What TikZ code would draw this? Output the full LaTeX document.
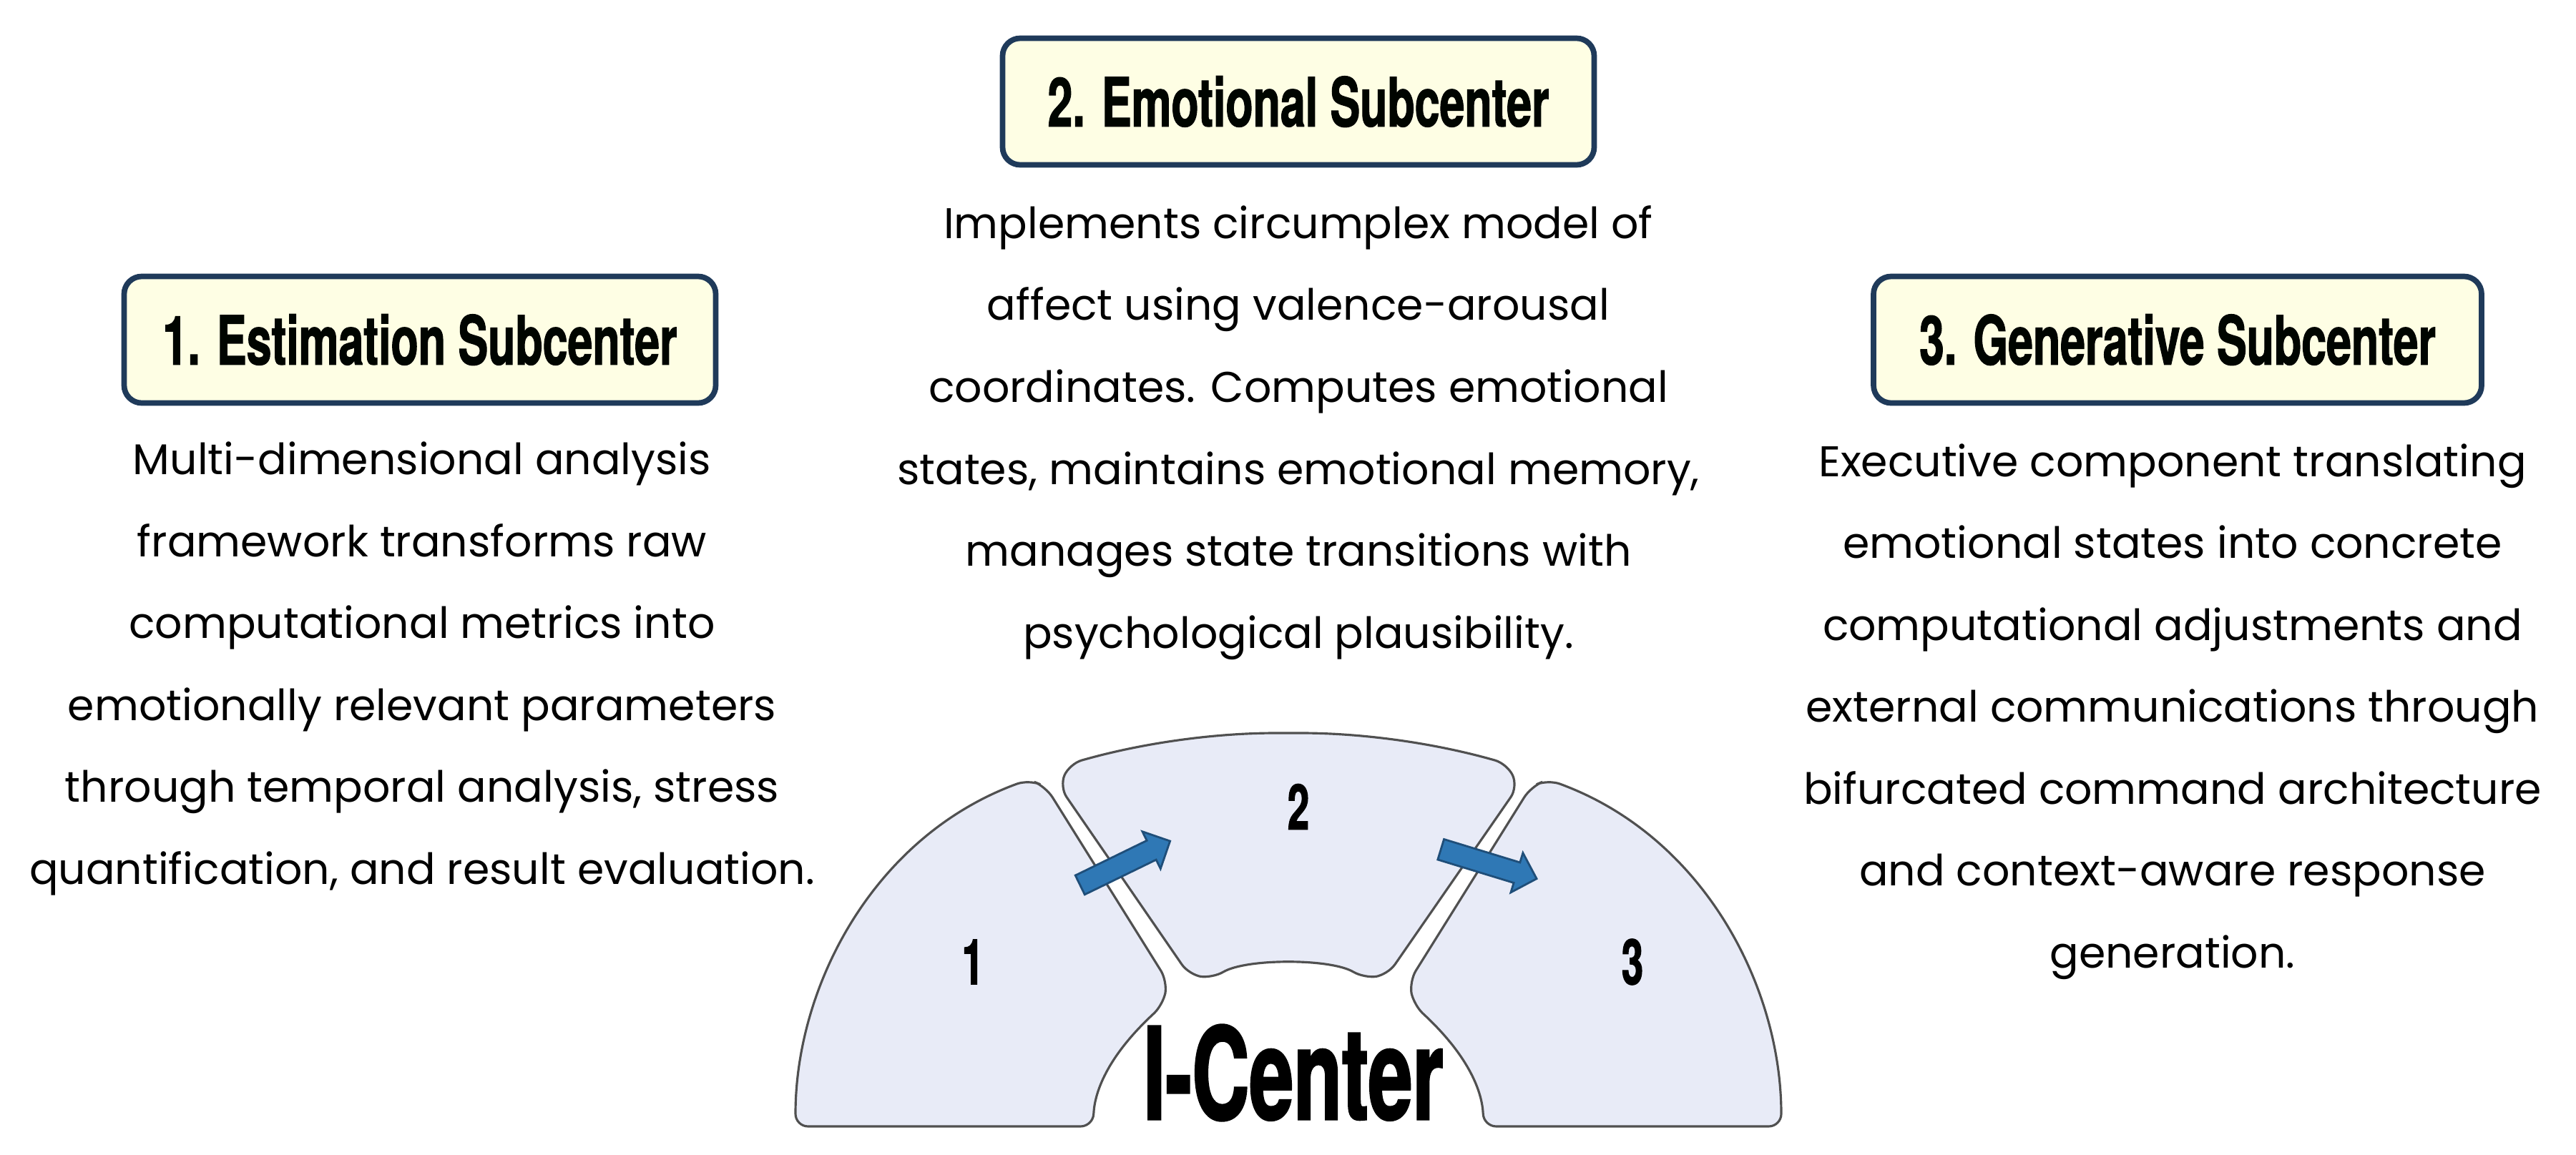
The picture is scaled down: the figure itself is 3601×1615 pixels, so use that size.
\documentclass[tikz,border=0pt]{standalone}
\usepackage{fontspec}
\setmainfont{Poppins}
\newfontfamily\titlefont[FakeStretch=0.66,FakeBold=1.2]{TeX Gyre Heros}
\newfontfamily\numfont[FakeStretch=0.62,FakeBold=1.4]{TeX Gyre Heros}
\usetikzlibrary{shapes.arrows}
\definecolor{boxfill}{HTML}{FEFEE4}
\definecolor{boxline}{HTML}{1F3A5A}
\definecolor{segfill}{HTML}{E8EBF7}
\definecolor{segline}{HTML}{505050}
\definecolor{arrfill}{HTML}{2F78B5}
\definecolor{arrline}{HTML}{1F4E79}
\tikzset{
  title/.style={draw=boxline,line width=2.2pt,fill=boxfill,rounded corners=7pt,
    minimum height=17.7mm,inner sep=0pt,font=\titlefont\bfseries\fontsize{27}{30}\selectfont,text=black!90!green!20!black},
  body/.style={align=center,font=\fontsize{17.1}{32.6}\selectfont,text=black},
  seg/.style={draw=segline,line width=0.9pt,fill=segfill,rounded corners=5pt},
  num/.style={font=\numfont\bfseries\fontsize{25}{28}\selectfont},
  blk/.style={single arrow,draw=arrline,line width=0.8pt,fill=arrfill,minimum height=14mm,
    inner xsep=0pt,inner ysep=1.35mm,single arrow head extend=1.4mm,
    single arrow head indent=0pt}
}
\begin{document}
\begin{tikzpicture}[x=0.1mm,y=-0.1mm]
\path[use as bounding box] (0,0) rectangle (3601,1615);
% titles
\node[title,minimum width=82.7mm] (t1) at (587,475) {1. Estimation Subcenter};
\node[title,minimum width=82.7mm] (t2) at (1815,142) {2. Emotional Subcenter};
\node[title,minimum width=85mm] (t3) at (3044,475) {3. Generative Subcenter};
% bodies
\node[body] (b1) at (590,935) {Multi-dimensional analysis\\framework transforms raw\\computational metrics into\\emotionally relevant parameters\\through temporal analysis, stress\\quantification, and result evaluation.};
\node[body] (b2) at (1815,605) {Implements circumplex model of\\affect using valence-arousal\\coordinates. Computes emotional\\states, maintains emotional memory,\\manages state transitions with\\psychological plausibility.};
\node[body] (b3) at (3037,995) {Executive component translating\\emotional states into concrete\\computational adjustments and\\external communications through\\bifurcated command architecture\\and context-aware response\\generation.};
% segments
\path[seg] (1112,1575) .. controls (1112,1380) and (1220,1170) .. (1438,1090)
  -- (1462,1100) -- (1632,1372) -- (1626,1405)
  .. controls (1545,1480) and (1530,1530) .. (1528,1575) -- cycle;
\path[seg] (1481,1100) -- (1495,1068) .. controls (1600,1038) and (1700,1025) .. (1801,1025)
  .. controls (1902,1025) and (2002,1038) .. (2107,1068) -- (2122,1100)
  -- (1940,1363) -- (1907,1368) .. controls (1860,1340) and (1742,1340) .. (1695,1368)
  -- (1662,1363) -- cycle;
\path[seg] (2490,1575) .. controls (2490,1380) and (2382,1170) .. (2164,1090)
  -- (2140,1100) -- (1970,1372) -- (1976,1405)
  .. controls (2057,1480) and (2072,1530) .. (2074,1575) -- cycle;
% numbers
\node[num] (n1) at (1360,1345) {1};
\node[num] (n2) at (1815,1128) {2};
\node[num] (n3) at (2282,1345) {3};
\node[font=\numfont\bfseries\fontsize{51}{54}\selectfont] (ic) at (1808,1500) {I-Center};
% arrows
\node[blk,rotate=26] (a1) at (1566,1210) {};
\node[blk,rotate=-17] (a2) at (2074,1206) {};
\end{tikzpicture}
\end{document}
